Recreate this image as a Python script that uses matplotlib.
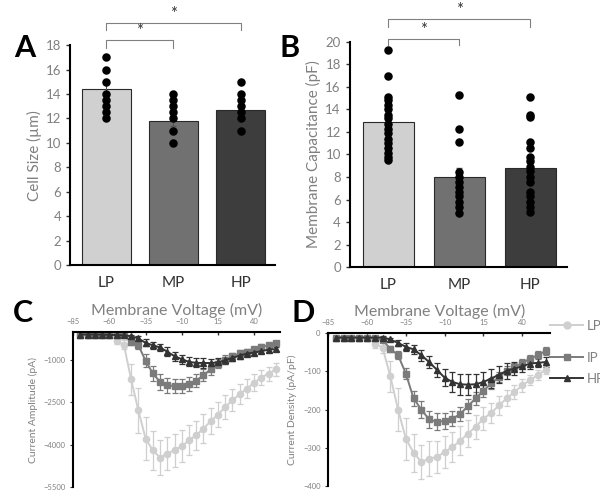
import matplotlib
matplotlib.use("Agg")
import matplotlib.pyplot as plt
from matplotlib.lines import Line2D

plt.rcParams['font.family'] = ['Lato', 'DejaVu Sans']

# ---- panel A / B data ----
groups = ["LP", "MP", "HP"]
bar_colors = ["#d0d0d0", "#717171", "#3d3d3d"]

size_mean = [14.4, 11.8, 12.7]
size_err = [0.45, 0.4, 0.4]
size_pts = [
    [17, 16, 15, 14, 13.5, 13, 12.5, 12],
    [14, 13.5, 13, 12.5, 12, 11, 10],
    [15, 14, 13.5, 13, 12.5, 12, 11],
]

cap_mean = [12.9, 8.0, 8.8]
cap_err = [0.45, 0.8, 0.55]
cap_pts = [
    [19.3, 17.0, 15.1, 14.8, 14.4, 14.0, 13.5, 13.2, 12.7, 12.3, 11.9, 11.4,
     11.0, 10.6, 10.1, 9.8, 9.5],
    [15.3, 12.3, 11.1, 8.4, 8.0, 7.6, 7.1, 6.7, 6.3, 5.8, 5.3, 4.8],
    [15.1, 13.5, 13.3, 11.1, 10.6, 9.8, 9.4, 8.9, 8.5, 8.0, 7.6, 6.7, 6.3,
     5.8, 5.3, 4.9],
]

# ---- panel C / D data ----
voltage = [-80, -75, -70, -65, -60, -55, -50, -45, -40, -35, -30, -25, -20, -15,
           -10, -5, 0, 5, 10, 15, 20, 25, 30, 35, 40, 45, 50, 55]

amp_lp = [-90, -90, -90, -95, -100, -320, -450, -1680, -2775, -3780, -4195, -4455,
          -4310, -4195, -4050, -3840, -3660, -3425, -3165, -2930, -2660, -2420,
          -2205, -2005, -1805, -1615, -1475, -1330]
amp_lp_err = [20, 20, 20, 20, 30, 100, 150, 550, 800, 750, 700, 620, 600, 580,
              560, 540, 520, 500, 470, 450, 420, 390, 360, 330, 300, 270, 250, 230]
amp_mp = [-90, -90, -90, -90, -95, -100, -110, -350, -470, -1020, -1470, -1770,
          -1890, -1920, -1910, -1850, -1730, -1530, -1330, -1120, -980, -860,
          -760, -700, -620, -530, -470, -390]
amp_mp_err = [30, 30, 30, 30, 30, 30, 50, 100, 150, 230, 260, 270, 260, 260,
              250, 240, 230, 210, 190, 170, 150, 130, 120, 110, 100, 90, 80, 80]
amp_hp = [-90, -90, -90, -95, -100, -110, -120, -150, -230, -385, -470, -550,
          -700, -860, -965, -1060, -1095, -1100, -1100, -1080, -1000, -920,
          -835, -765, -730, -680, -625, -610]
amp_hp_err = [30, 30, 30, 30, 30, 30, 40, 60, 90, 120, 130, 140, 150, 160,
              160, 160, 160, 160, 150, 140, 130, 120, 110, 100, 90, 80, 80, 70]

den_lp = [-12, -12, -12, -12, -12, -28, -38, -113, -200, -276, -313, -337,
          -328, -324, -311, -298, -282, -263, -245, -224, -209, -189, -171,
          -154, -137, -123, -110, -97]
den_lp_err = [3, 3, 3, 3, 3, 10, 15, 40, 55, 55, 50, 45, 45, 43, 42, 40, 38,
              35, 32, 30, 27, 24, 21, 18, 16, 14, 12, 10]
den_mp = [-12, -12, -12, -12, -12, -14, -19, -41, -58, -106, -171, -200, -226,
          -232, -230, -224, -212, -191, -171, -151, -132, -115, -99, -89, -78,
          -67, -58, -47]
den_mp_err = [3, 3, 3, 3, 3, 4, 5, 8, 10, 15, 20, 22, 22, 22, 20, 20, 18, 18,
              16, 15, 14, 13, 12, 11, 10, 10, 10, 10]
den_hp = [-12, -12, -12, -12, -12, -12, -12, -17, -26, -36, -43, -58, -76, -96,
          -117, -128, -134, -135, -134, -128, -119, -109, -99, -93, -87, -80,
          -78, -76]
den_hp_err = [3, 3, 3, 3, 3, 3, 4, 5, 8, 10, 12, 14, 16, 18, 22, 25, 27, 28,
              28, 27, 25, 22, 20, 17, 15, 13, 12, 12]

line_colors = ["#cfcfcf", "#7b7b7b", "#333333"]
line_markers = ["o", "s", "^"]
legend_names = ["LP", "IP", "HP"]
legend_rows = [326, 358, 379]   # pixel rows of the legend entries

GRAY = "#808080"

fig = plt.figure(figsize=(6, 4.94), dpi=100)


def bar_panel(ax, means, errs, pts, ymax, step, ylabel, brackets):
    xs = range(len(groups))
    ax.bar(xs, means, width=0.72, color=bar_colors, edgecolor="#2a2a2a",
           linewidth=0.8, yerr=errs, error_kw=dict(ecolor="#555555", capsize=2,
                                                    elinewidth=0.8))
    for i, p in enumerate(pts):
        ax.scatter([i] * len(p), p, s=26, color="black", zorder=3)
    ax.set_xlim(-0.54, 2.52)
    ax.set_ylim(0, ymax)
    ax.set_yticks(range(0, ymax + 1, step))
    ax.set_xticks(list(xs))
    ax.set_xticklabels(groups, fontsize=11, color="#333333")
    ax.tick_params(axis="x", length=0, pad=8)
    ax.tick_params(axis="y", labelsize=9.5, labelcolor=GRAY, length=3,
                   width=1, color="#333333")
    for s in ["top", "right"]:
        ax.spines[s].set_visible(False)
    for s in ["left", "bottom"]:
        ax.spines[s].set_linewidth(1.5)
    ax.set_ylabel(ylabel, fontsize=11, color=GRAY, labelpad=3)
    for x0, x1, y, drop in brackets:
        ax.plot([x0, x0, x1, x1], [y - drop, y, y, y - drop], color=GRAY,
                lw=0.8, clip_on=False)
        ax.text((x0 + x1) / 2, y + drop * 0.15, "*", ha="center", va="bottom",
                fontsize=12, color="#333333", clip_on=False)


axA = fig.add_axes([0.117, 0.4636, 0.342, 0.445])
bar_panel(axA, size_mean, size_err, size_pts, 18, 2, "Cell Size (\u00b5m)",
          [(0, 1, 18.4, 0.65), (0, 2, 19.8, 0.6)])

axB = fig.add_axes([0.583, 0.4595, 0.362, 0.4555])
bar_panel(axB, cap_mean, cap_err, cap_pts, 20, 2, "Membrane Capacitance (pF)",
          [(0, 1, 20.3, 0.55), (0, 2, 22.0, 0.65)])


def iv_panel(ax, series, yticks, ymin, ylabel):
    for (vals, errs), c, m in zip(series, line_colors, line_markers):
        ax.errorbar(voltage, vals, yerr=errs, color=c, marker=m, markersize=4.5,
                    lw=1.4, elinewidth=0.9, capsize=2, capthick=0.9)
    ax.set_xlim(-85, 58)
    ax.set_ylim(ymin, 0)
    ax.set_xticks([-85, -60, -35, -10, 15, 40])
    ax.set_yticks(yticks)
    ax.xaxis.tick_top()
    ax.xaxis.set_label_position("top")
    ax.tick_params(axis="x", labelsize=5.5, labelcolor=GRAY, direction="in",
                   length=2.5, width=1, color="#333333", pad=5)
    ax.tick_params(axis="y", labelsize=5.5, labelcolor=GRAY, length=2,
                   color="#333333")
    for s in ["bottom", "right"]:
        ax.spines[s].set_visible(False)
    for s in ["left", "top"]:
        ax.spines[s].set_linewidth(1.5)
    ax.set_xlabel("Membrane Voltage (mV)", fontsize=11.5, color=GRAY, labelpad=2)
    ax.set_ylabel(ylabel, fontsize=7.5, color=GRAY, labelpad=4)


axC = fig.add_axes([0.122, 0.014, 0.345, 0.314])
iv_panel(axC, [(amp_lp, amp_lp_err), (amp_mp, amp_mp_err), (amp_hp, amp_hp_err)],
         [-5500, -4000, -2500, -1000], -5500, "Current Amplitude (pA)")

axD = fig.add_axes([0.547, 0.016, 0.37, 0.31])
iv_panel(axD, [(den_lp, den_lp_err), (den_mp, den_mp_err), (den_hp, den_hp_err)],
         [-400, -300, -200, -100, 0], -400, "Current Density (pA/pF)")

for name, c, m, row in zip(legend_names, line_colors, line_markers, legend_rows):
    h = Line2D([], [], color=c, marker=m, markersize=5, lw=1.4)
    fig.legend([h], [name], loc="center left",
               bbox_to_anchor=(0.917, 1 - row / 494), frameon=False, fontsize=9.5,
               labelcolor=GRAY, handlelength=2.5, handletextpad=0.25,
               borderaxespad=0, borderpad=0)

for letter, x, y in [("A", 25, 48), ("B", 290, 48), ("C", 23, 313), ("D", 303, 313)]:
    fig.text(x / 600, 1 - y / 494, letter, fontsize=22, fontweight="bold",
             ha="center", va="center")

fig.savefig("out.png", dpi=100)
